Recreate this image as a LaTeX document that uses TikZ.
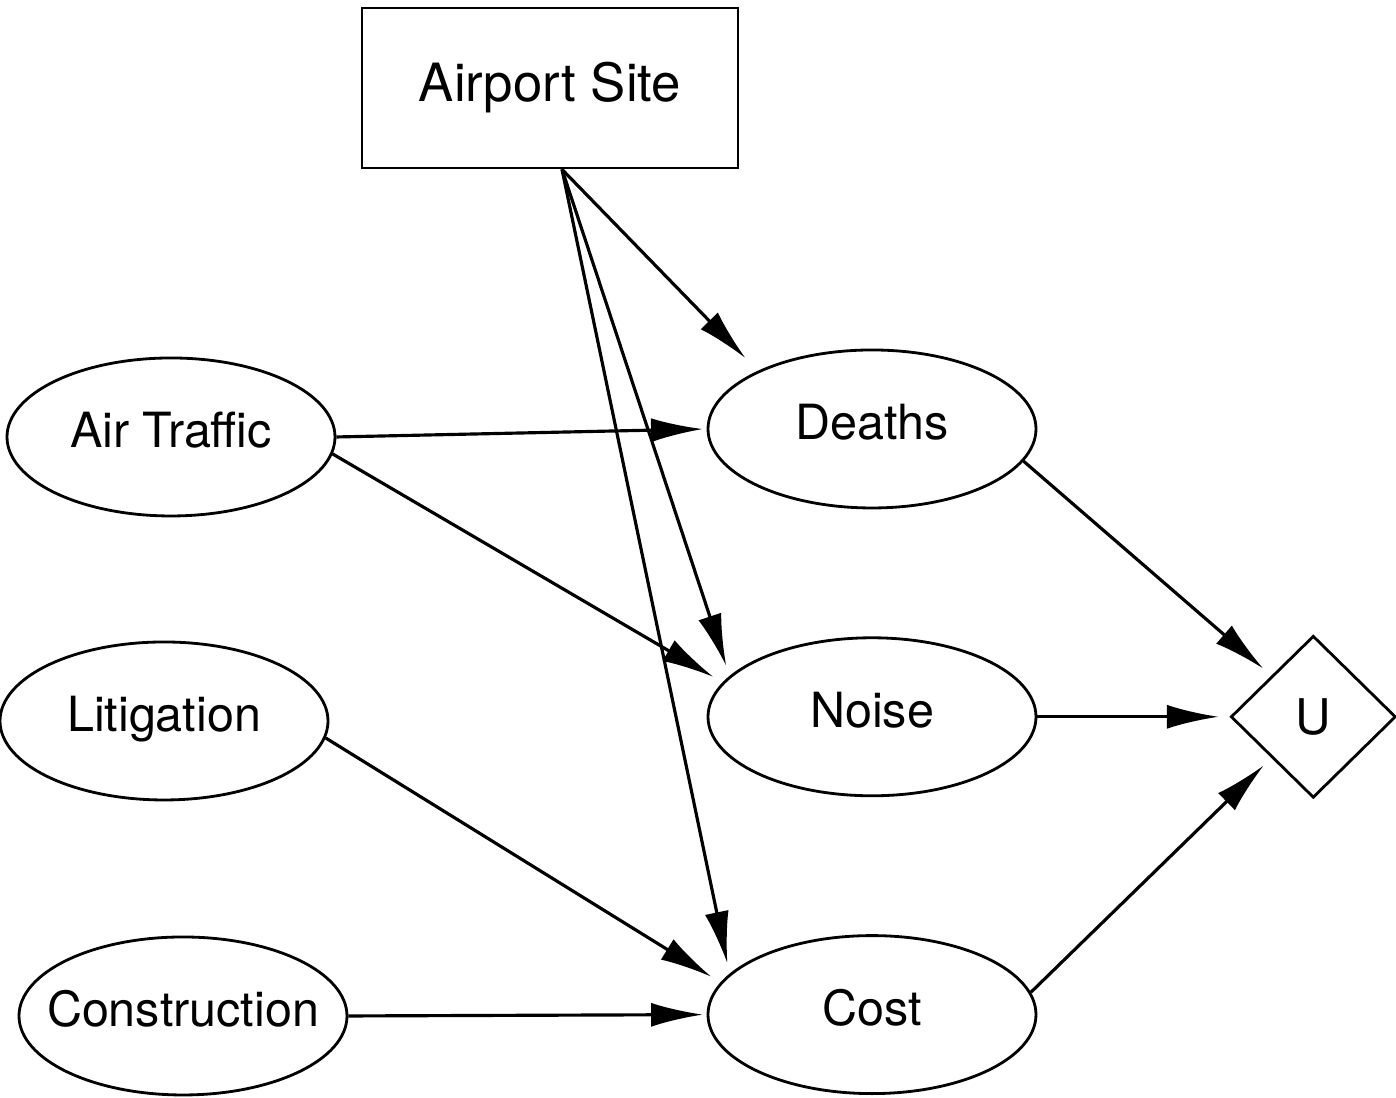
\documentclass[tikz,border=0pt]{standalone}
\usepackage{fontspec}
\setmainfont{TeX Gyre Heros}
\usetikzlibrary{shapes.geometric, arrows.meta, positioning}

\begin{document}
\begin{tikzpicture}[
    % Stil für die Zufallsknoten (Ellipsen)
    chance/.style={
      ellipse,
      draw=black,
      line width=0.8pt,
      minimum width=3.28cm,
      minimum height=1.58cm,
      inner xsep=-0.3cm,
      inner ysep=0pt,
      text height=0.35cm,
      text depth=0.13cm,
      font=\fontsize{13.8}{16}\selectfont
    },
    % Stil für den Entscheidungsknoten
    decision/.style={
      rectangle,
      draw=black,
      line width=0.8pt,
      minimum width=3.76cm,
      minimum height=1.6cm,
      font=\fontsize{15}{18}\selectfont
    },
    % Stil für den Nutzenknoten
    utility/.style={
      diamond,
      draw=black,
      line width=0.8pt,
      minimum width=1.65cm,
      minimum height=1.62cm,
      inner sep=0pt,
      font=\fontsize{14}{16}\selectfont
    },
    % Stil für die Pfeile
    link/.style={
      -{Latex[length=0.52cm,width=0.24cm]},
      line width=0.9pt,
      shorten >=3pt
    }
  ]

  \useasboundingbox (0,0) rectangle (13.96,10.98);

  % --- DEFINITION DER KNOTEN ---

  % Entscheidung
  \node[decision] (site) at (5.50,10.10) {Airport Site};

  % Linke Spalte
  \node[chance] (traffic) at (1.71,6.61) {Air Traffic};
  \node[chance] (litig) at (1.64,3.77) {Litigation};
  \node[chance] (constr) at (1.83,0.82) {Construction};

  % Mittlere Spalte
  \node[chance] (deaths) at (8.72,6.69) {Deaths};
  \node[chance, below=1.27cm of deaths] (noise) {Noise};
  \node[chance, below=1.37cm of noise] (cost) {Cost};

  % Nutzen
  \node[utility, right=1.92cm of noise] (util) {U};

  \coordinate (sitefoot) at ([xshift=0.12cm]site.south);

  % --- ZEICHNEN DER PFEILE ---
  \draw[link, shorten >=5pt] (sitefoot) -- (deaths.153);
  \draw[link] (sitefoot) -- (noise.164);
  \draw[link] (sitefoot) -- (cost.164);

  \draw[link, shorten >=1pt] (traffic.east) -- (deaths.west);
  \draw[link] (traffic.-6) -- (noise.167);
  \draw[link] (litig.-6) -- (cost.168);
  \draw[link, shorten >=1pt] (constr.east) -- (cost.west);

  % Pfeile zum Nutzenknoten
  \draw[link] (deaths.-12) -- (util.north west);
  \draw[link] (noise.east) -- (util.west);
  \draw[link] (cost.8) -- (util.south west);

\end{tikzpicture}
\end{document}
